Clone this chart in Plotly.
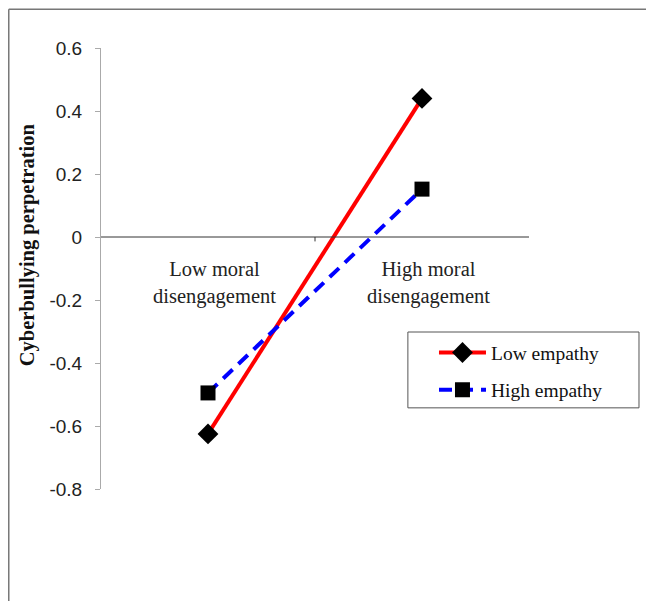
import plotly.graph_objects as go

categories = ["Low moral<br>disengagement", "High moral<br>disengagement"]
cat_pos = [0, 1]
low_empathy = [-0.625, 0.44]
high_empathy = [-0.495, 0.152]
y_ticks = [0.6, 0.4, 0.2, 0, -0.2, -0.4, -0.6, -0.8]
y_tick_text = ["0.6", "0.4", "0.2", "0", "-0.2", "-0.4", "-0.6", "-0.8"]

fig = go.Figure()
fig.add_trace(go.Scatter(
    x=cat_pos, y=low_empathy, name="Low empathy", mode="lines+markers",
    legendgroup="low",
    line=dict(color="#ff0000", width=4),
    marker=dict(symbol="diamond", size=16, color="black"),
))
fig.add_trace(go.Scatter(
    x=cat_pos, y=high_empathy, name="High empathy", mode="lines+markers",
    legendgroup="high",
    line=dict(color="#0000ff", width=4, dash="13px,8px"),
    marker=dict(symbol="square", size=15, color="black"),
))

# category labels below the zero line
for xp, lab in zip(cat_pos, categories):
    fig.add_annotation(x=xp, y=0, xref="x", yref="y", text=lab, showarrow=False,
                       yanchor="top", yshift=-19, xshift=6,
                       font=dict(family="Liberation Serif", size=20.5, color="#222"))

# y-axis title
fig.add_annotation(x=-0.173, y=0.555, xref="paper", yref="paper",
                   text="<b>Cyberbullying perpetration</b>", textangle=-90,
                   showarrow=False, xanchor="center", yanchor="middle",
                   font=dict(family="Liberation Serif", size=20.5, color="#111"))

# zero (category) axis line and middle tick
fig.add_shape(type="line", xref="x", yref="y", x0=-0.5, x1=1.5, y0=0, y1=0,
              line=dict(color="#333", width=1))
fig.add_shape(type="line", xref="x", yref="y", x0=0.5, x1=0.5, y0=0, y1=-0.014,
              line=dict(color="#333", width=1))

# outer frame (left and top edges visible)
fig.add_shape(type="line", xref="paper", yref="paper", x0=-0.2155, x1=-0.2155, y0=1.088, y1=-0.35,
              line=dict(color="#777", width=1.5))
fig.add_shape(type="line", xref="paper", yref="paper", x0=-0.2155, x1=1.35, y0=1.088, y1=1.088,
              line=dict(color="#777", width=1.5))

# legend box
fig.add_shape(type="rect", xref="paper", yref="paper", x0=0.717, x1=1.257, y0=0.184, y1=0.356,
              line=dict(color="#555", width=1), fillcolor="rgba(0,0,0,0)")

fig.update_layout(
    width=654, height=601,
    margin=dict(l=93, r=133, t=40, b=120),
    paper_bgcolor="white", plot_bgcolor="white",
    showlegend=True,
    legend=dict(
        x=0.778, y=0.353, xanchor="left", yanchor="top",
        borderwidth=0, bgcolor="rgba(0,0,0,0)", traceorder="grouped",
        font=dict(family="Liberation Serif", size=19.5, color="#111"),
        tracegroupgap=9, itemwidth=47,
    ),
    xaxis=dict(range=[-0.5, 1.5], showgrid=False, zeroline=False, showline=False,
               showticklabels=False, ticks=""),
    yaxis=dict(range=[-0.8, 0.6], tickvals=y_ticks, ticktext=y_tick_text,
               showgrid=False, zeroline=False, showline=True, linecolor="#aaa", linewidth=1,
               ticks="outside", ticklen=5, tickcolor="#aaa", ticklabelstandoff=9,
               tickfont=dict(family="Liberation Sans", size=19, color="#222")),
)

fig.write_html("out.html")
